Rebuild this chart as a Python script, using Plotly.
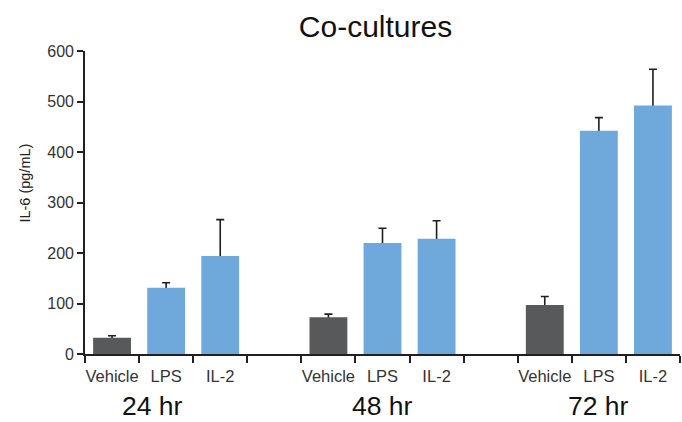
import plotly.graph_objects as go

groups = ["24 hr", "48 hr", "72 hr"]
treatments = ["Vehicle", "LPS", "IL-2"]
means = {
    "24 hr": [32, 131, 194],
    "48 hr": [73, 220, 228],
    "72 hr": [97, 442, 492],
}
errors = {
    "24 hr": [4, 10, 72],
    "48 hr": [6, 29, 36],
    "72 hr": [17, 26, 72],
}
y_ticks = [0, 100, 200, 300, 400, 500, 600]
group_label_x = [0.75, 5, 9]

colors = {"Vehicle": "#58595b", "LPS": "#6fa9dc", "IL-2": "#6fa9dc"}
slots_per_group = len(treatments) + 1
n_slots = len(groups) * slots_per_group - 1

xs, ys, es, cs, tick_pos, tick_txt = [], [], [], [], [], []
for gi, g in enumerate(groups):
    for ti, t in enumerate(treatments):
        pos = gi * slots_per_group + ti
        xs.append(pos)
        ys.append(means[g][ti])
        es.append(errors[g][ti])
        cs.append(colors[t])
        tick_pos.append(pos)
        tick_txt.append(t)

FONT = "Liberation Sans, Arial, Helvetica, sans-serif"
AX = "#231f20"

fig = go.Figure()
# error bars (upper only visible: lower part hidden behind the coloured bars)
fig.add_trace(go.Bar(
    x=xs, y=ys, width=0.7,
    marker=dict(color="rgba(0,0,0,0)", line=dict(width=0)),
    error_y=dict(type="data", array=es, arrayminus=ys, symmetric=False,
                 color="#1e1e1e", thickness=1.6, width=4),
    showlegend=False, hoverinfo="skip",
))
fig.add_trace(go.Bar(
    x=xs, y=ys, width=0.7,
    marker=dict(color=cs, line=dict(width=0)),
    showlegend=False,
))

for gi, g in enumerate(groups):
    fig.add_annotation(x=group_label_x[gi], xref="x", y=-0.171, yref="paper",
                       text=g, showarrow=False, yanchor="middle", xanchor="center",
                       font=dict(family=FONT, size=26.5, color="#111111"))

# y-axis title
fig.add_annotation(x=-0.1, xref="paper", y=0.564, yref="paper", text="IL-6 (pg/mL)",
                   textangle=-90, showarrow=False, xanchor="center", yanchor="middle",
                   font=dict(family=FONT, size=14.5, color="#222222"))

boundaries = [i - 0.5 for i in range(n_slots + 1)]

fig.update_layout(
    width=682, height=422,
    margin=dict(l=85, r=2, t=51, b=68),
    paper_bgcolor="white", plot_bgcolor="white",
    barmode="overlay",
    title=dict(text="Co-cultures", x=0.5506, xref="container", xanchor="center",
               y=1 - 26 / 422, yref="container", yanchor="middle",
               font=dict(family=FONT, size=30, color="#111111")),
    xaxis=dict(range=[-0.5, n_slots - 0.5], tickmode="array", tickvals=tick_pos,
               ticktext=tick_txt, ticks="outside", ticklen=6,
               tickcolor="rgba(0,0,0,0)", showgrid=False, zeroline=False,
               showline=True, linecolor=AX, linewidth=1.6,
               tickfont=dict(family=FONT, size=16.5, color="#333333"),
               minor=dict(tickmode="array", tickvals=boundaries, ticks="outside",
                          ticklen=7, tickwidth=1.6, tickcolor=AX, showgrid=False)),
    yaxis=dict(range=[0, 600], tickmode="array", tickvals=y_ticks, ticks="outside",
               ticklen=6, tickwidth=1.6, tickcolor=AX, showline=True, linecolor=AX,
               linewidth=1.6, showgrid=False, zeroline=False,
               tickfont=dict(family=FONT, size=16, color="#333333")),
)

fig.write_html("out.html")
